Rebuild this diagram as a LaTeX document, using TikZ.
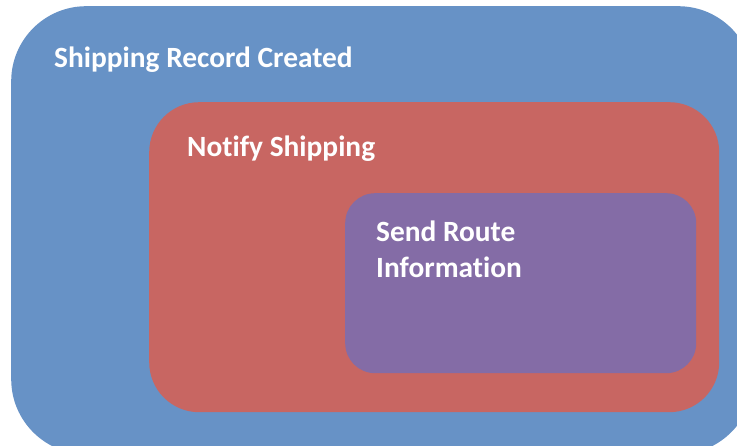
\documentclass[tikz,border=0pt]{standalone}
\usepackage{fontspec}
\setmainfont[RawFeature=-liga]{Carlito}
\definecolor{recordblue}{RGB}{103,146,198}
\definecolor{notifyred}{RGB}{200,102,98}
\definecolor{routepurple}{RGB}{132,108,166}
\tikzset{
  stage/.style={draw=none, inner sep=0pt, anchor=north west},
  stagelabel/.style={text=white, font=\fontsize{29.5}{37}\selectfont\bfseries,
    inner sep=0pt, anchor=base west, align=left},
}
\begin{document}
\begin{tikzpicture}[x=1bp, y=-1bp]
  \useasboundingbox (0,0) rectangle (737,446);
  \clip (0,0) rectangle (737,446);
  % nested stages, outermost first
  \node[stage, fill=recordblue, rounded corners=75bp,
        minimum width=742bp, minimum height=448bp] (record) at (11,6) {};
  \node[stage, fill=notifyred, rounded corners=50bp,
        minimum width=570bp, minimum height=310bp] (notify) at (149,102) {};
  \node[stage, fill=routepurple, rounded corners=30bp,
        minimum width=351bp, minimum height=180bp] (route) at (345,193) {};
  % stage titles (base anchor of the two-line title sits on its last line)
  \node[stagelabel] (recordtitle) at (54,67.5) {Shipping Record Created};
  \node[stagelabel] (notifytitle) at (187,157) {Notify Shipping};
  \node[stagelabel] (routetitle) at (376,278) {Send Route\\Information};
\end{tikzpicture}
\end{document}
